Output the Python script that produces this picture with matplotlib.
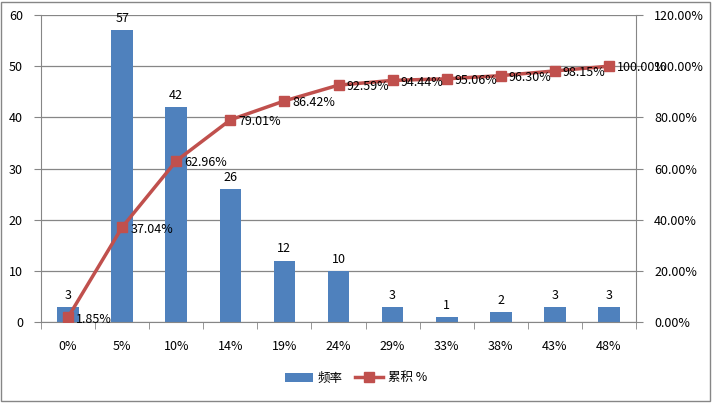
import matplotlib
matplotlib.use('Agg')
import matplotlib.pyplot as plt
from matplotlib.ticker import FuncFormatter, FixedLocator
import numpy as np

plt.rcParams['font.family'] = ['Noto Sans CJK SC', 'DejaVu Sans']

categories = ['0%', '5%', '10%', '14%', '19%', '24%', '29%', '33%', '38%', '43%', '48%']
freq = [3, 57, 42, 26, 12, 10, 3, 1, 2, 3, 3]
cum_pct = [1.85, 37.04, 62.96, 79.01, 86.42, 92.59, 94.44, 95.06, 96.30, 98.15, 100.00]

bar_color = '#4F81BD'
line_color = '#C0504D'
grid_color = '#868686'
fs = 9

fig = plt.figure(figsize=(7.12, 4.03), dpi=100)
ax = fig.add_axes([41 / 712, 1 - 322 / 403, (636 - 41) / 712, (322 - 15) / 403])
ax2 = ax.twinx()

x = np.arange(len(categories))
bars = ax.bar(x, freq, width=0.4, color=bar_color, label='频率', zorder=2)
for xi, v in zip(x, freq):
    ax.text(xi, v + 1.0, str(v), ha='center', va='bottom', fontsize=fs)

ax.set_xlim(-0.5, len(categories) - 0.5)
ax.set_ylim(0, 60)
ax.set_yticks(range(0, 61, 10))
ax.set_xticks(x)
ax.set_xticklabels(categories, fontsize=fs)
ax.xaxis.set_minor_locator(FixedLocator(np.arange(-0.5, len(categories), 1)))
ax.tick_params(axis='x', which='major', length=0, pad=13)
ax.tick_params(axis='x', which='minor', length=5, color=grid_color, direction='out')
ax.tick_params(axis='y', labelsize=fs, length=5, color=grid_color, pad=8)
ax.yaxis.grid(True, color=grid_color, linewidth=0.9, zorder=0)
ax.set_axisbelow(True)

line, = ax2.plot(x, cum_pct, color=line_color, linewidth=2.5, marker='s',
                 markersize=7, label='累积 %', zorder=3)
for xi, v in zip(x, cum_pct):
    ax2.text(xi + 0.15, v - 0.7, '{:.2f}%'.format(v), ha='left', va='center', fontsize=fs)
ax2.set_ylim(0, 120)
ax2.set_yticks(range(0, 121, 20))
ax2.yaxis.set_major_formatter(FuncFormatter(lambda v, p: '{:.2f}%'.format(v)))
ax2.tick_params(axis='y', labelsize=fs, length=5, color=grid_color, pad=8)

for a in (ax, ax2):
    a.spines['top'].set_visible(False)
    for s in ('left', 'right', 'bottom'):
        a.spines[s].set_color(grid_color)
ax.spines['right'].set_visible(False)
ax2.spines['left'].set_visible(False)
ax2.spines['bottom'].set_visible(False)

handles = [bars, line]
fig.legend(handles, ['频率', '累积 %'], loc='center', bbox_to_anchor=(0.5, 1 - 378 / 403),
           ncol=2, frameon=False, fontsize=fs, handlelength=2.2, handletextpad=0.4,
           columnspacing=1.0)

fig.patches.append(plt.Rectangle((0.002, 0.005), 0.995, 0.99, transform=fig.transFigure,
                                 fill=False, edgecolor=grid_color, linewidth=1))

fig.savefig('out.png', dpi=100)
